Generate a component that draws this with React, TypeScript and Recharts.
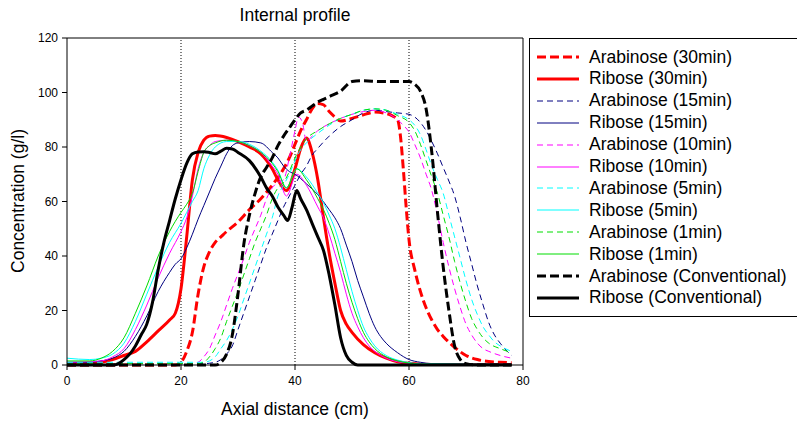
import React from 'react';
import { LineChart, Line, XAxis, YAxis, ReferenceLine } from 'recharts';

// [axial distance (cm), concentration (g/l)]
const arab30: [number, number][] = [
  [0, 0], [19, 0], [20, 1], [21, 5], [22, 12], [23, 26], [24, 36], [25, 41.5], [26, 45], [27, 47], [28, 49],
  [30, 52.5], [32, 57], [34, 61], [36, 66], [38, 72], [39, 76], [40, 81], [41, 86], [42, 90], [43, 94], [44, 96],
  [45, 95.5], [46, 93], [47, 91], [48, 89.5], [50, 90.5], [52, 91.8], [54, 92.8], [56, 92.3], [57, 91.5], [58, 90],
  [58.5, 84], [59, 72], [59.5, 58], [60, 46], [61, 35], [62, 27], [63, 21], [64, 16.5], [65, 13], [66, 10.5],
  [68, 6.5], [70, 3.5], [72, 2], [74, 1.3], [76, 1], [78, 0.8],
];
const ribose30: [number, number][] = [
  [0, 0.5], [4, 0.5], [6, 1], [8, 2], [10, 3.5], [12, 5], [14, 8.5], [16, 12.5], [18, 16.5], [19, 19], [20, 28],
  [21, 47], [22, 68], [23, 78], [24, 82.5], [25, 84], [26, 84.2], [28, 83.5], [30, 82], [32, 80], [34, 77.5],
  [36, 72], [37, 68], [38.5, 64], [40, 72], [41, 79.5], [42, 83.3], [43, 78], [44, 68], [45, 54], [46, 41],
  [47, 30], [48, 20], [49, 15], [50, 12], [52, 7.5], [54, 4.5], [56, 2.5], [58, 1.2], [60, 0.6], [62, 0.3],
  [66, 0.2], [78, 0.2],
];
const arab15: [number, number][] = [
  [0, 0.5], [24, 0.5], [26, 1], [27, 2], [28, 4], [29, 7], [30, 13], [31, 19], [32, 25], [33, 31], [34, 37],
  [35, 43], [36, 48], [37, 53], [38, 58], [39, 62], [40, 66], [41, 70], [42, 73], [43, 77], [44, 79.5], [46, 84],
  [48, 87.5], [50, 90], [52, 92.5], [54, 93.5], [56, 93], [58, 92.5], [60, 92], [61, 91], [62, 89], [63, 86],
  [64, 82], [65, 77.5], [66, 72.5], [67, 67.5], [68, 62], [69, 54], [70, 45], [71, 37], [72, 29], [73, 22],
  [74, 15.5], [75, 11], [76, 8], [77, 5.5], [78, 3.5],
];
const ribose15: [number, number][] = [
  [0, 1], [4, 1], [6, 1.5], [8, 2.5], [10, 5], [12, 10.5], [14, 18], [16, 27], [18, 34], [19, 37], [20, 39],
  [21, 43], [22, 48], [23, 53.5], [24, 58.5], [25, 63.5], [26, 68.5], [27, 73], [28, 77.5], [29, 80.5], [30, 81.5],
  [32, 82], [34, 81.5], [36, 78], [37, 76], [38, 73], [39, 71], [40, 70], [42, 66.5], [44, 62.5], [46, 57],
  [47, 54], [48, 50], [49, 44], [50, 38], [51, 31], [52, 25], [53, 19], [54, 14], [55, 10.5], [56, 8], [58, 4.5],
  [60, 2], [62, 1], [64, 0.5], [78, 0.3],
];
const arab10: [number, number][] = [
  [0, 0.5], [22, 0.5], [23, 1], [24, 3], [25, 6], [26, 11], [27, 16], [28, 22], [29, 28], [30, 33.5], [31, 39],
  [32, 45], [33, 50], [34, 55], [35, 61], [36, 65], [37, 67], [38, 68], [39, 76], [40, 86], [40.6, 91], [41.3, 89],
  [42, 82], [43, 84], [44, 86], [46, 88.5], [48, 90.5], [50, 92], [52, 93], [54, 93.5], [56, 92.5], [58, 90],
  [59, 88], [60, 85.5], [61, 81], [62, 76], [63, 70], [64, 64], [65, 55], [66, 45], [67, 36], [68, 28], [69, 21],
  [70, 15], [71, 11], [72, 8], [73, 6], [74, 5], [76, 3.5], [78, 2.5],
];
const ribose10: [number, number][] = [
  [0, 1], [6, 1.5], [8, 3], [10, 6], [12, 13], [14, 22], [16, 32], [18, 41], [20, 49], [21, 54], [22, 62],
  [23, 72], [24, 78], [25, 80.5], [26, 82], [28, 82.5], [30, 82], [32, 80.5], [34, 78], [36, 73], [37, 70],
  [38.5, 62], [40.3, 70], [42, 66], [44, 58], [45, 54], [46, 48], [47, 41], [48, 34], [49, 26], [50, 19], [51, 14],
  [52, 10], [53, 7], [54, 5], [56, 2.5], [58, 1.2], [60, 0.6], [64, 0.2], [78, 0.2],
];
const arab5: [number, number][] = [
  [0, 1], [24, 1], [25, 1.5], [26, 3], [27, 6], [28, 9], [29, 13], [30, 18], [31, 24], [32, 30], [33, 36],
  [34, 42], [35, 48], [36, 54], [37, 62], [38, 66], [39, 70], [40, 75], [41, 79], [42, 81.5], [44, 85], [46, 88],
  [48, 90.5], [50, 92], [52, 93.5], [54, 94], [56, 93.5], [58, 92], [60, 90], [61, 88], [62, 84.5], [63, 79],
  [64, 73], [65, 68], [66, 63], [67, 55], [68, 47], [69, 39], [70, 31], [71, 24], [72, 18.5], [73, 14], [74, 11],
  [75, 8.5], [76, 7], [78, 5],
];
const ribose5: [number, number][] = [
  [0, 2.5], [4, 2], [6, 2.5], [8, 4], [10, 8], [12, 16], [14, 26], [16, 36], [18, 45], [20, 52], [21, 56],
  [22, 60], [23, 64], [24, 72], [25, 77], [26, 80], [28, 82], [30, 82], [32, 81], [34, 78.5], [36, 74.5],
  [37, 71.5], [38.5, 65], [40.3, 72], [42, 69], [44, 63], [45, 59.5], [46, 55], [47, 50], [48, 43], [49, 35],
  [50, 27], [51, 20], [52, 14], [53, 10], [54, 7], [56, 3.5], [58, 1.8], [60, 0.9], [62, 0.4], [78, 0.2],
];
const arab1: [number, number][] = [
  [0, 0.5], [23, 0.5], [24, 1], [25, 3], [26, 6], [27, 10], [28, 16], [29, 21.5], [30, 27], [31, 33], [32, 39],
  [33, 45], [34, 50], [35, 55], [36, 61], [37, 65], [38, 67], [39, 71], [40, 76], [41, 80], [42, 83], [44, 86],
  [46, 88.5], [48, 90.5], [50, 92], [52, 93.5], [54, 94], [56, 93.5], [58, 91.5], [60, 89], [61, 86], [62, 81],
  [63, 75], [64, 69], [65, 63], [66, 55], [67, 47], [68, 38], [69, 30], [70, 23], [71, 17], [72, 13], [73, 10],
  [74, 8], [76, 6], [78, 4.5],
];
const ribose1: [number, number][] = [
  [0, 1.5], [4, 1.5], [6, 2.5], [8, 5], [10, 10], [12, 19], [14, 29], [16, 40], [18, 49], [20, 56], [21, 59],
  [22, 63], [23, 71], [24, 78], [25, 80.5], [26, 81.5], [28, 82.5], [30, 82], [32, 80.5], [34, 78], [36, 74],
  [37, 71], [38.5, 65], [40.3, 72], [42, 68], [44, 61], [45, 57], [46, 52], [47, 46], [48, 38], [49, 30],
  [50, 23], [51, 17], [52, 12], [53, 8.5], [54, 6], [56, 3], [58, 1.5], [60, 0.7], [62, 0.3], [78, 0.2],
];
const arabConv: [number, number][] = [
  [0, 0], [26, 0], [27, 1], [28, 4], [29, 11], [30, 26], [31, 44], [32, 55], [33, 63], [34, 69], [35, 72.5],
  [36, 76], [37, 80.5], [38, 84], [39, 87], [40, 90], [41, 92.5], [42, 93.5], [43, 95], [44, 96.5], [45, 97.5],
  [46, 98.5], [48, 100.5], [50, 104], [52, 104.3], [55, 104], [58, 104], [60, 104], [61, 103], [62, 100.5],
  [63, 94], [64, 78], [65, 56], [66, 36], [67, 20], [68, 7], [69, 2], [70, 0.5], [72, 0], [78, 0],
];
const riboseConv: [number, number][] = [
  [0, 0], [8, 0], [9, 0.5], [10, 2], [11, 4], [12, 7], [13, 11], [14, 15], [15, 23], [16, 35], [17, 45], [18, 53],
  [19, 61], [20, 68], [21, 74], [22, 77.5], [23, 78.2], [24, 78.3], [25, 78], [26, 77.5], [27, 78.5], [28, 79.5],
  [29, 79.3], [30, 78], [32, 75], [34, 69], [35, 65], [36, 62], [37, 58], [38, 55], [38.7, 53], [39.5, 58],
  [40.3, 64], [41, 61], [42, 57], [43, 52], [44, 47], [45, 42], [46, 33], [47, 22], [48, 10], [49, 3.5], [50, 1],
  [51, 0], [78, 0],
];

const xTicks = [0, 20, 40, 60, 80];
const yTicks = [0, 20, 40, 60, 80, 100, 120];
const gridX = [20, 40, 60];

const FONT = "Arial, 'Liberation Sans', sans-serif";

const series = [
  { name: 'Arabinose (30min)', data: arab30, color: '#FF0000', width: 3, dash: '9 4' },
  { name: 'Ribose (30min)', data: ribose30, color: '#FF0000', width: 3, dash: undefined },
  { name: 'Arabinose (15min)', data: arab15, color: '#000080', width: 1, dash: '6 4' },
  { name: 'Ribose (15min)', data: ribose15, color: '#000080', width: 1, dash: undefined },
  { name: 'Arabinose (10min)', data: arab10, color: '#FF00FF', width: 1, dash: '6 4' },
  { name: 'Ribose (10min)', data: ribose10, color: '#FF00FF', width: 1, dash: undefined },
  { name: 'Arabinose (5min)', data: arab5, color: '#00FFFF', width: 1, dash: '6 4' },
  { name: 'Ribose (5min)', data: ribose5, color: '#00FFFF', width: 1, dash: undefined },
  { name: 'Arabinose (1min)', data: arab1, color: '#00DD00', width: 1, dash: '6 4' },
  { name: 'Ribose (1min)', data: ribose1, color: '#00DD00', width: 1, dash: undefined },
  { name: 'Arabinose (Conventional)', data: arabConv, color: '#000000', width: 3, dash: '9 4' },
  { name: 'Ribose (Conventional)', data: riboseConv, color: '#000000', width: 3, dash: undefined },
];

const toPoints = (pts: [number, number][]) => pts.map(([x, y]) => ({ x, y }));

const LegendBox = () => (
  <div
    style={{
      position: 'absolute',
      left: 521,
      top: 30,
      width: 269,
      height: 277,
      border: '1px solid #000',
      fontFamily: FONT,
      fontSize: 17.5,
      color: '#000',
    }}
  >
    {series.map((s, i) => (
      <div
        key={s.name}
        style={{ position: 'absolute', left: 6, top: 8 + i * 21.9, height: 20, display: 'flex', alignItems: 'center' }}
      >
        <svg width={44} height={20} style={{ display: 'block' }}>
          <line
            x1={1}
            x2={43}
            y1={10}
            y2={10}
            stroke={s.color}
            strokeWidth={s.width}
            strokeDasharray={s.dash}
          />
        </svg>
        <span style={{ marginLeft: 9, whiteSpace: 'nowrap' }}>{s.name}</span>
      </div>
    ))}
  </div>
);

export default function App() {
  return (
    <div style={{ position: 'relative', width: 797, height: 418, background: '#fff' }}>
      <div
        style={{
          position: 'absolute',
          left: 187,
          width: 200,
          top: -3,
          textAlign: 'center',
          fontFamily: FONT,
          fontSize: 17.5,
        }}
      >
        Internal profile
      </div>
      <LineChart
        width={797}
        height={418}
        margin={{ top: 30, right: 282, bottom: 31, left: 0 }}
        style={{ fontFamily: FONT }}
      >
        <XAxis
          dataKey="x"
          type="number"
          domain={[0, 80]}
          ticks={xTicks}
          allowDuplicatedCategory={false}
          axisLine={{ stroke: '#000' }}
          tickLine={{ stroke: '#000' }}
          tickSize={5}
          tickMargin={6}
          height={30}
          tick={{ fill: '#000', fontSize: 12 }}
        />
        <YAxis
          type="number"
          domain={[0, 120]}
          ticks={yTicks}
          width={59}
          axisLine={{ stroke: '#000' }}
          tickLine={{ stroke: '#000' }}
          tickSize={5}
          tickMargin={4}
          tick={{ fill: '#000', fontSize: 12 }}
        />
        {gridX.map((g) => (
          <ReferenceLine key={g} x={g} stroke="#000" strokeDasharray="1 2" />
        ))}
        <ReferenceLine y={120} stroke="#000" />
        <ReferenceLine x={80} stroke="#000" />
        {series.map((s) => (
          <Line
            key={s.name}
            data={toPoints(s.data)}
            dataKey="y"
            name={s.name}
            type="monotone"
            stroke={s.color}
            strokeWidth={s.width}
            strokeDasharray={s.dash}
            dot={false}
            activeDot={false}
            isAnimationActive={false}
          />
        ))}
      </LineChart>
      <div
        style={{
          position: 'absolute',
          left: 10,
          top: 193,
          transform: 'translate(-50%, -50%) rotate(-90deg)',
          whiteSpace: 'nowrap',
          fontFamily: FONT,
          fontSize: 17.5,
        }}
      >
        Concentration (g/l)
      </div>
      <div
        style={{
          position: 'absolute',
          left: 137,
          width: 300,
          top: 391,
          textAlign: 'center',
          fontFamily: FONT,
          fontSize: 17.5,
        }}
      >
        Axial distance (cm)
      </div>
      <LegendBox />
    </div>
  );
}
